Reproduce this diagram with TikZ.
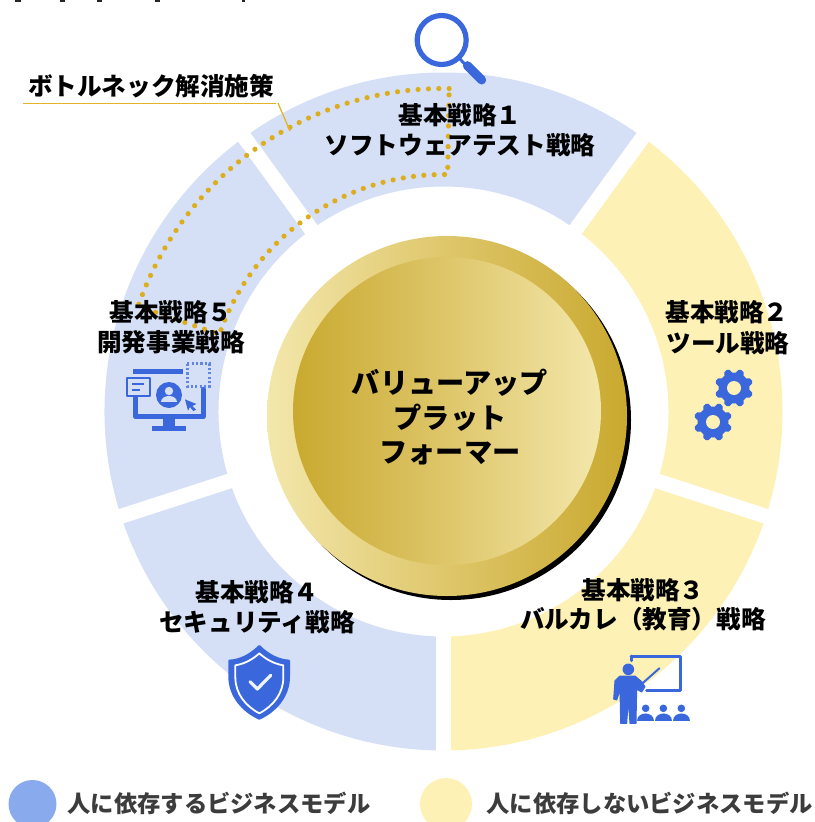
\documentclass[tikz,border=0pt]{standalone}
\usepackage{fontspec}
\setmainfont{Noto Sans CJK JP}[BoldFont={Noto Sans CJK JP Black}]
\tikzset{
  every node/.style={inner sep=0pt,outer sep=0pt,font=\bfseries,text=black,align=center},
  lab/.style={font=\bfseries\fontsize{24.6}{30}\selectfont},
  centerlab/.style={font=\bfseries\fontsize{28.2}{35}\selectfont},
  leg/.style={font=\bfseries\fontsize{23.3}{28}\selectfont,text=legtext,anchor=west},
  iconfill/.style={fill=iconblue,draw=none},
  iconline/.style={draw=iconblue,line cap=round,line join=round},
  goldline/.style={draw=leader,line width=1.6pt},
  dots/.style={draw=dotgold,line width=5.2pt,line cap=round,dash pattern=on 0pt off 10.35pt},
  zoomed/.style={x=0.33333pt,y=-0.33333pt},
}
\definecolor{ringblue}{HTML}{D5DFF6}
\definecolor{ringyellow}{HTML}{FDF1B5}
\definecolor{legblue}{HTML}{8AAAEE}
\definecolor{iconblue}{HTML}{3A68DC}
\definecolor{dotgold}{HTML}{DCAE1D}
\definecolor{leader}{HTML}{E3B32A}
\definecolor{legtext}{HTML}{3C3C3C}
\definecolor{goldlight}{HTML}{F3E7AB}
\definecolor{goldmid}{HTML}{DEC66A}
\definecolor{golddark}{HTML}{C9A92F}
\newcommand{\ringsector}[3]{\fill[#3] (#1:339pt) arc[start angle=#1,end angle=#2,radius=339pt] -- (#2:225pt) arc[start angle=#2,end angle=#1,radius=225pt] -- cycle;}
\newcommand{\geartoothed}[2]{%
  \fill[iconblue] (#1,#2) circle[radius=15.5pt];
  \foreach \a in {0,45,...,315}{\draw[iconblue,line width=8pt,line cap=round] ([shift={(\a+22.5:12pt)}]#1,#2) -- ([shift={(\a+22.5:15.5pt)}]#1,#2);}
  \fill[ringyellow] (#1,#2) circle[radius=7pt];
}
\begin{document}
\begin{tikzpicture}[x=1pt,y=-1pt]
\useasboundingbox (0,0) rectangle (814,822);
% ring
\begin{scope}[shift={(443.5pt,-411.5pt)}]
  \ringsector{54}{126}{ringblue}
  \ringsector{-18}{54}{ringyellow}
  \ringsector{-90}{-18}{ringyellow}
  \ringsector{-162}{-90}{ringblue}
  \ringsector{126}{198}{ringblue}
  \foreach \a in {54,126,198,270,342}{\draw[white,line width=15pt] (\a:215pt) -- (\a:345pt);}
  % dotted band
  \draw[dots] (89:323pt) arc[start angle=89,end angle=161,radius=323pt] -- (161:237pt) arc[start angle=161,end angle=89,radius=237pt] -- cycle;
\end{scope}
% coin
\fill[black] (451,420) circle[radius=180pt];
\shade[left color=goldlight,right color=golddark,middle color=goldmid] (447,416) circle[radius=180pt];
\shade[left color=golddark,right color=goldlight,middle color=goldmid] (447,411) circle[radius=154pt];
% leader
\draw[goldline] (23,103.5) -- (276,103.5);
\draw[goldline,line width=1.3pt] (278,103) -- (290,131);
% magnifier
\begin{scope}[shift={(400pt,0pt)},zoomed]
  \draw[iconline,line width=5.2pt] (125,120) circle[radius=24.5pt];
  \draw[iconline,line width=3pt] (175,172) -- (200,198);
  \draw[iconline,line width=9pt] (202,197) -- (245,240);
\end{scope}
% gears
\geartoothed{734}{388}
\geartoothed{713}{422}
% teacher
\begin{scope}[shift={(600pt,-640pt)},zoomed]
  \draw[iconline,line width=3pt] (93,48) -- (242,48) -- (242,152) -- (140,152);
  \draw[iconline,line width=3pt] (93,48) -- (93,62);
  \fill[iconblue] (85,88) circle[radius=5.8pt];
  \fill[iconblue,draw=iconblue,line join=round,line width=1pt] (60,108) -- (105,108) -- (125,125) -- (135,140) -- (125,156) -- (110,148) -- (108,250) -- (90,250) -- (85,182) -- (80,250) -- (62,250) -- (60,150) -- (50,180) -- (41,177) -- (45,122) -- cycle;
  \draw[iconline,line width=2pt] (125,132) -- (178,85);
  \foreach \x in {137,190,244}{
    \fill[iconblue] (\x,205) circle[radius=3.8pt];
    \fill[iconblue] (\x-25,243) .. controls (\x-25,212) and (\x+25,212) .. (\x+25,243) -- cycle;
  }
\end{scope}
% shield
\begin{scope}[shift={(210pt,-640pt)},zoomed]
  \fill[iconblue,draw=iconblue,line width=2pt,line join=round] (148,18) .. controls (175,45) and (205,60) .. (237,62) -- (237,110) .. controls (237,170) and (195,215) .. (148,236) .. controls (101,215) and (58,170) .. (58,110) -- (58,62) .. controls (91,60) and (121,45) .. (148,18) -- cycle;
  \draw[white,line width=1.8pt,line join=round] (148,40) .. controls (170,60) and (195,72) .. (220,76) -- (220,112) .. controls (220,160) and (190,198) .. (148,220) .. controls (106,198) and (76,160) .. (76,112) -- (76,76) .. controls (101,72) and (126,60) .. (148,40) -- cycle;
  \draw[white!92!iconblue,line width=3.2pt,line cap=round,line join=round] (120,125) -- (142,147) -- (182,106);
\end{scope}
% monitor
\begin{scope}[shift={(100pt,-280pt)},zoomed]
  \draw[iconline,line width=5pt,line cap=butt] (100,273) -- (250,273);
  \draw[iconline,line width=5pt] (106,352) -- (106,410) -- (310,410) -- (310,328);
  \fill[iconblue] (190,415) rectangle (225,440);
  \fill[iconblue] (157,437) rectangle (257,452);
  \draw[iconline,line width=2.2pt,line cap=butt,fill=ringblue] (81,294) rectangle (151,347);
  \draw[iconline,line width=2pt,line cap=butt] (97,313) -- (133,313);
  \draw[iconline,line width=2pt,line cap=butt] (97,330) -- (120,330);
  \fill[iconblue] (207,345) circle[radius=13pt];
  \fill[ringblue] (207,333) circle[radius=4.2pt];
  \fill[ringblue] (183,366) .. controls (183,342) and (231,342) .. (231,366) -- cycle;
  \fill[iconblue] (255,358) -- (289,372) -- (277,378) -- (288,389) -- (280,393) -- (270,381) -- (264,392) -- cycle;
  \draw[draw=iconblue!75!ringblue,line width=2.4pt,dash pattern=on 2.2pt off 2.2pt] (262,251) rectangle (328,320);
\end{scope}
% cut-off marks at the top edge
\foreach \xa/\xb in {15/21,60/65,97/102,155/160,242/245}{\fill[black!85] (\xa,0) rectangle (\xb,2);}
% labels
\node[lab] (bottleneck) at (151,86) {ボトルネック解消施策};
\node[lab] (s1a) at (460,115) {基本戦略１};
\node[lab] (s1b) at (460,145) {ソフトウェアテスト戦略};
\node[lab] (s2a) at (727,312) {基本戦略２};
\node[lab] (s2b) at (728,343) {ツール戦略};
\node[lab] (s3a) at (643,590) {基本戦略３};
\node[lab] (s3b) at (643,619) {バルカレ（教育）戦略};
\node[lab] (s4a) at (257,592) {基本戦略４};
\node[lab] (s4b) at (257,622) {セキュリティ戦略};
\node[lab] (s5a) at (171,312) {基本戦略５};
\node[lab] (s5b) at (171,342) {開発事業戦略};
\node[centerlab] (c1) at (450,383) {バリューアップ};
\node[centerlab] (c2) at (450,418) {プラット};
\node[centerlab] (c3) at (450,453) {フォーマー};
% legend
\fill[legblue] (32.5,804) circle[radius=24pt];
\fill[ringyellow] (446,804) circle[radius=26pt];
\node[leg] (l1) at (67.5,803) {人に依存するビジネスモデル};
\node[leg] (l2) at (486.5,803) {人に依存しないビジネスモデル};
\end{tikzpicture}
\end{document}
